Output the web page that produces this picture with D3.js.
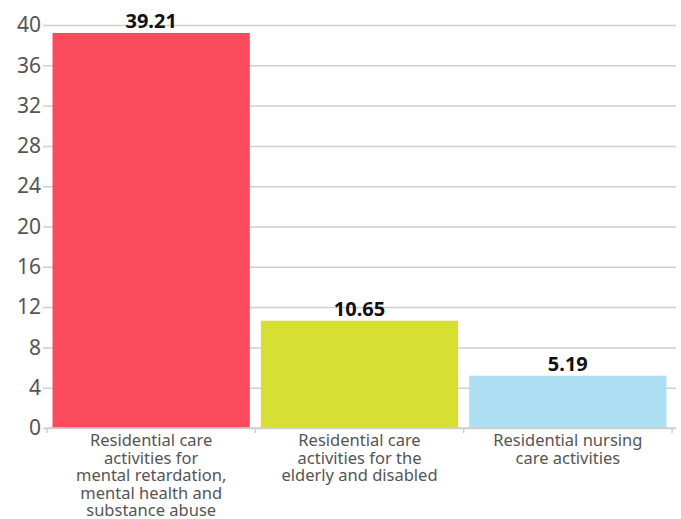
<!DOCTYPE html>
<html>
<head>
<meta charset="utf-8">
<script src="https://cdn.jsdelivr.net/npm/d3@7"></script>
<style>
  body { margin: 0; background: #fff; }
  svg text { font-family: "Noto Sans", "Open Sans", sans-serif; }
  svg text.cat { font-family: "Liberation Sans Narrow", "Noto Sans", sans-serif; }
</style>
</head>
<body>
<script>
// data
var categories = [
  ["Residential care", "activities for", "mental retardation,", "mental health and", "substance abuse"],
  ["Residential care", "activities for the", "elderly and disabled"],
  ["Residential nursing", "care activities"]
];
var values = [39.21, 10.65, 5.19];
var colors = ["#f94b5b", "#d8df33", "#ade0f2"];
var yTicks = [0, 4, 8, 12, 16, 20, 24, 28, 32, 36, 40];

var width = 681, height = 519;
var margin = {top: 25, right: 9, bottom: 91, left: 47};
var innerW = width - margin.left - margin.right,
    innerH = height - margin.top - margin.bottom;

var svg = d3.select("body").append("svg")
    .attr("width", width)
    .attr("height", height);

var g = svg.append("g")
    .attr("transform", "translate(" + margin.left + "," + margin.top + ")");

var x = d3.scaleBand()
    .domain(d3.range(values.length))
    .range([0, innerW])
    .paddingInner(0.053)
    .paddingOuter(0.0265);

var y = d3.scaleLinear()
    .domain([0, 40])
    .range([innerH, 0]);

// grid lines + y labels
var yAxis = g.append("g")
    .attr("class", "y axis")
    .call(d3.axisLeft(y).tickValues(yTicks).tickSize(-innerW - 4).tickPadding(8));
yAxis.select(".domain").remove();
yAxis.selectAll(".tick line")
    .attr("x1", -4)
    .attr("stroke", "#cfcfcf")
    .attr("stroke-width", 1.5);
yAxis.selectAll(".tick text")
    .attr("x", -6)
    .attr("fill", "#555")
    .style("font-size", "21px");

// bars
g.selectAll("rect.bar")
    .data(values)
    .enter().append("rect")
    .attr("class", "bar")
    .attr("x", function(d, i) { return x(i); })
    .attr("y", function(d) { return y(d); })
    .attr("width", x.bandwidth())
    .attr("height", function(d) { return innerH - y(d); })
    .attr("fill", function(d, i) { return colors[i]; });

// value labels
g.selectAll("text.value")
    .data(values)
    .enter().append("text")
    .attr("class", "value")
    .attr("x", function(d, i) { return x(i) + x.bandwidth() / 2; })
    .attr("y", function(d) { return y(d) - 5; })
    .attr("text-anchor", "middle")
    .style("font-size", "20px")
    .style("font-weight", "bold")
    .attr("fill", "#111")
    .text(function(d) { return d.toFixed(2); });

// x axis line and ticks at band edges
var xAxisG = g.append("g")
    .attr("transform", "translate(0," + innerH + ")");
xAxisG.append("line")
    .attr("x1", -2).attr("x2", innerW + 4)
    .attr("stroke", "#cfcfcf").attr("stroke-width", 1.5);
var edges = [0].concat(d3.range(values.length).map(function(i) { return x(i) + x.bandwidth() + x.step() * x.paddingInner() / 2; }));
xAxisG.selectAll("line.tk")
    .data(edges)
    .enter().append("line")
    .attr("class", "tk")
    .attr("x1", function(d) { return d; })
    .attr("x2", function(d) { return d; })
    .attr("y1", 0).attr("y2", 5)
    .attr("stroke", "#cfcfcf").attr("stroke-width", 1.5);

// category labels
var catG = xAxisG.selectAll("text.cat")
    .data(categories)
    .enter().append("text")
    .attr("class", "cat")
    .attr("text-anchor", "middle")
    .attr("fill", "#555")
    .style("font-size", "16.5px")
    .attr("transform", function(d, i) { return "translate(" + (x(i) + x.bandwidth() / 2) + ",18)"; });
catG.selectAll("tspan")
    .data(function(d) { return d; })
    .enter().append("tspan")
    .attr("x", 0)
    .attr("y", function(d, i) { return i * 17.6; })
    .text(function(d) { return d; });
</script>
</body>
</html>
